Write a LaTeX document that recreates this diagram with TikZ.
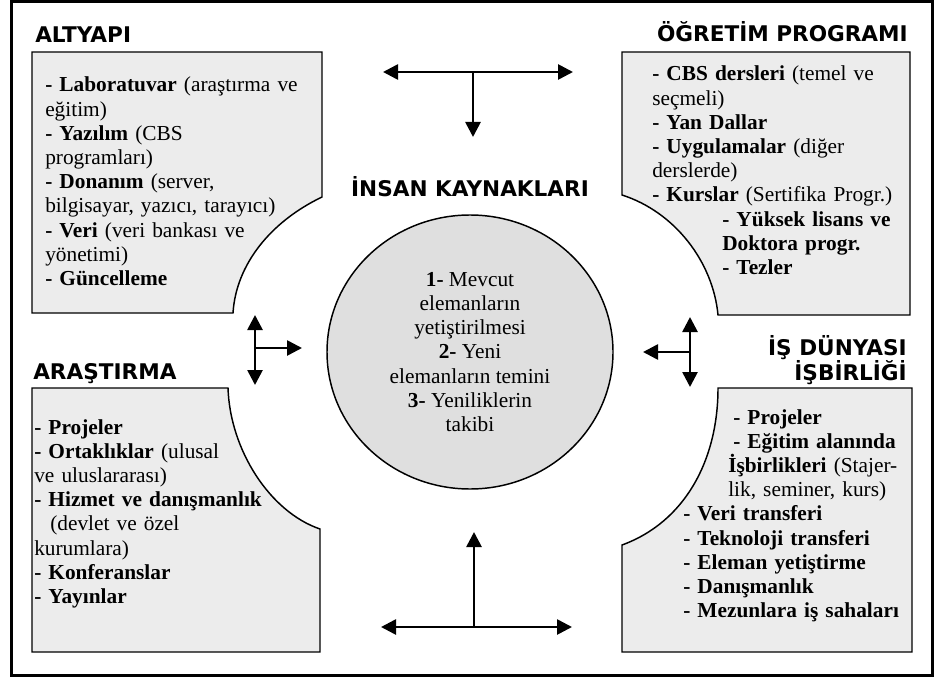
\documentclass[tikz,border=0pt]{standalone}
\usepackage{fontspec}
\setmainfont{Liberation Serif}
\newfontfamily\hdrfont{DejaVu Sans}
\usetikzlibrary{arrows.meta,shapes.geometric}
\begin{document}
\begin{tikzpicture}[x=0.75pt,y=-0.75pt,
  panel/.style={draw=black,line width=1.1pt,fill=gray!15},
  body/.style={inner sep=0pt,anchor=base west,text width=250pt,align=left,font=\fontsize{16}{18.15}\selectfont},
  hdr/.style={inner sep=0pt,font=\hdrfont\bfseries\fontsize{16.2}{18.75}\selectfont},
  tip/.tip={Triangle[length=11.25pt,width=11.25pt]},
  arr/.style={line width=2pt,-tip},
  arrboth/.style={line width=2pt,tip-tip}]
\useasboundingbox (0,0) rectangle (934,677);
% outer frame
\draw[line width=2.25pt] (11,2) rectangle (932,675);

% panels
\path[panel] (32,52) -- (322,52) -- (322,197) .. controls (270,222) and (236,265) .. (233,313) -- (32,313) -- cycle;
\path[panel] (622,52) -- (910,52) -- (910,315) -- (718,315) .. controls (713,262) and (675,212) .. (622,195) -- cycle;
\path[panel] (32,388) -- (228,388) .. controls (230,450) and (270,512) .. (320,529) -- (320,652) -- (32,652) -- cycle;
\path[panel] (718,388) -- (912,388) -- (912,652) -- (622,652) -- (622,545) .. controls (685,522) and (718,460) .. (718,388) -- cycle;

% titles
\node[hdr,anchor=base west] (t1) at (35,43) {ALTYAPI};
\node[hdr,anchor=base east] (t2) at (908,42) {ÖĞRETİM PROGRAMI};
\node[hdr,anchor=base west] (t3) at (33,379) {ARAŞTIRMA};
\node[hdr,anchor=base east] (t4a) at (907,355) {İŞ DÜNYASI};
\node[hdr,anchor=base east] (t4b) at (907,380) {İŞBİRLİĞİ};
\node[hdr,anchor=base] (t5) at (470,197) {İNSAN KAYNAKLARI};

% panel texts
\node[body] (b1) at (45,92) {%
\textbf{- Laboratuvar} (araştırma ve\\
eğitim)\\
\textbf{- Yazılım} (CBS\\
programları)\\
\textbf{- Donanım} (server,\\
bilgisayar, yazıcı, tarayıcı)\\
\textbf{- Veri} (veri bankası ve\\
yönetimi)\\
\textbf{- Güncelleme}};

\node[body] (b2) at (652,81) {%
\textbf{- CBS dersleri} (temel ve\\
seçmeli)\\
\textbf{- Yan Dallar}\\
\textbf{- Uygulamalar} (diğer\\
derslerde)\\
\textbf{- Kurslar} (Sertifika Progr.)\\
\hspace*{52.5pt}\textbf{- Yüksek lisans ve}\\
\hspace*{52.5pt}\textbf{Doktora progr.}\\
\hspace*{52.5pt}\textbf{- Tezler}};

\node[body] (b3) at (34,434) {%
\textbf{- Projeler}\\
\textbf{- Ortaklıklar} (ulusal\\
ve uluslararası)\\
\textbf{- Hizmet ve danışmanlık}\\
\hspace*{12pt}(devlet ve özel\\
kurumlara)\\
\textbf{- Konferanslar}\\
\textbf{- Yayınlar}};

\node[body] (b4) at (683,424) {%
\hspace*{37.5pt}\textbf{- Projeler}\\
\hspace*{37.5pt}\textbf{- Eğitim alanında}\\
\hspace*{33.75pt}\textbf{İşbirlikleri} (Stajer-\\
\hspace*{33.75pt}lik, seminer, kurs)\\
\textbf{- Veri transferi}\\
\textbf{- Teknoloji transferi}\\
\textbf{- Eleman yetiştirme}\\
\textbf{- Danışmanlık}\\
\textbf{- Mezunlara iş sahaları}};

% central circle
\node[ellipse,draw=black,line width=1.1pt,fill=gray!25,inner sep=0pt,
      minimum width=214.5pt,minimum height=205.5pt,align=center,
      font=\fontsize{16}{18.15}\selectfont] (hr) at (470,352) {%
\textbf{1-} Mevcut\\
elemanların\\
yetiştirilmesi\\
\textbf{2-} Yeni\\
elemanların temini\\
\textbf{3-} Yeniliklerin\\
takibi};

% arrows: top
\coordinate (tl) at (383,72);
\coordinate (tr) at (573,72);
\coordinate (tm) at (473,72);
\coordinate (tb) at (473,137);
\draw[arrboth] (tl) -- (tr);
\draw[arr] (tm) -- (tb);
% bottom
\coordinate (bl) at (381,627);
\coordinate (br) at (572,627);
\coordinate (bm) at (474,627);
\coordinate (bt) at (474,532);
\draw[arrboth] (bl) -- (br);
\draw[arr] (bm) -- (bt);
% left
\coordinate (lu) at (255,315);
\coordinate (ld) at (255,385);
\coordinate (lm) at (255,348);
\coordinate (lr) at (302,348);
\draw[arrboth] (lu) -- (ld);
\draw[arr] (lm) -- (lr);
% right
\coordinate (ru) at (690,317);
\coordinate (rd) at (690,387);
\coordinate (rm) at (690,352);
\coordinate (rl) at (643,352);
\draw[arrboth] (ru) -- (rd);
\draw[arr] (rm) -- (rl);
\end{tikzpicture}
\end{document}
